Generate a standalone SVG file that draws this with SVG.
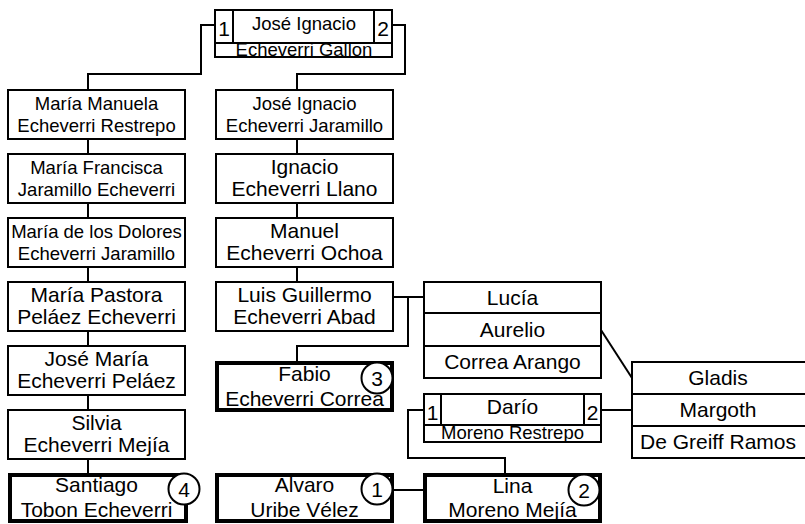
<svg xmlns="http://www.w3.org/2000/svg" width="805" height="524" viewBox="0 0 805 524">
<style>
.box{fill:#fff;stroke:#000;stroke-width:2}
.thick{fill:#fff;stroke:#000;stroke-width:4}
.circ{fill:#fff;stroke:#000;stroke-width:2}
.conn{fill:none;stroke:#000;stroke-width:2}
text{font-family:"Liberation Sans",Arial,sans-serif;text-anchor:middle;fill:#000}
.s{font-size:18.5px}
.l{font-size:21px}
</style>
<rect width="805" height="524" fill="#fff"/>
<g id="connectors">
<polyline class="conn" points="215,25 201,25 201,74 88,74 88,90"/>
<polyline class="conn" points="392,25 405,25 405,74 297,74 297,90"/>
<line class="conn" x1="88" y1="139" x2="88" y2="154"/>
<line class="conn" x1="88" y1="203" x2="88" y2="218"/>
<line class="conn" x1="88" y1="267" x2="88" y2="282"/>
<line class="conn" x1="88" y1="331" x2="88" y2="346"/>
<line class="conn" x1="88" y1="395" x2="88" y2="410"/>
<line class="conn" x1="88" y1="459" x2="88" y2="474"/>
<line class="conn" x1="297" y1="139" x2="297" y2="154"/>
<line class="conn" x1="297" y1="203" x2="297" y2="218"/>
<line class="conn" x1="297" y1="267" x2="297" y2="282"/>
<line class="conn" x1="393" y1="297" x2="424" y2="297"/>
<polyline class="conn" points="408,297 408,346 297,346 297,361"/>
<line class="conn" x1="601" y1="330" x2="632" y2="378"/>
<line class="conn" x1="601" y1="410" x2="632" y2="410"/>
<polyline class="conn" points="424,410 408,410 408,458 505,458 505,474"/>
<line class="conn" x1="392" y1="490" x2="424" y2="490"/>
</g>
<g id="jose-ignacio-gallon">
<rect class="box" x="215" y="10" width="177" height="47"/>
<line class="conn" x1="215" y1="43" x2="392" y2="43"/>
<rect class="box" x="215" y="10" width="18" height="33"/>
<rect class="box" x="374" y="10" width="18" height="33"/>
<text class="l" x="224" y="36">1</text>
<text class="l" x="383" y="36">2</text>
<text class="s" x="304" y="30">José Ignacio</text>
<text class="s" x="304" y="55.5">Echeverri Gallon</text>
</g>
<g id="maria-manuela">
<rect class="box" x="8" y="90" width="177" height="49"/>
<text class="s" x="96.5" y="110">María Manuela</text>
<text class="s" x="96.5" y="132">Echeverri Restrepo</text>
</g>
<g id="maria-francisca">
<rect class="box" x="8" y="154" width="177" height="49"/>
<text class="s" x="96.5" y="174">María Francisca</text>
<text class="s" x="96.5" y="196">Jaramillo Echeverri</text>
</g>
<g id="maria-dolores">
<rect class="box" x="8" y="218" width="177" height="49"/>
<text class="s" x="96.5" y="238">María de los Dolores</text>
<text class="s" x="96.5" y="260">Echeverri Jaramillo</text>
</g>
<g id="maria-pastora">
<rect class="box" x="8" y="282" width="177" height="49"/>
<text class="l" x="96.5" y="302">María Pastora</text>
<text class="l" x="96.5" y="324">Peláez Echeverri</text>
</g>
<g id="jose-maria">
<rect class="box" x="8" y="346" width="177" height="49"/>
<text class="l" x="96.5" y="366">José María</text>
<text class="l" x="96.5" y="388">Echeverri Peláez</text>
</g>
<g id="silvia">
<rect class="box" x="8" y="410" width="177" height="49"/>
<text class="l" x="96.5" y="430">Silvia</text>
<text class="l" x="96.5" y="452">Echeverri Mejía</text>
</g>
<g id="santiago">
<rect class="thick" x="10" y="475" width="176" height="46"/>
<text class="l" x="96.5" y="492">Santiago</text>
<text class="l" x="96.5" y="517">Tobon Echeverri</text>
<circle class="circ" cx="184" cy="489" r="15.5"/>
<text class="l" x="184" y="496.5">4</text>
</g>
<g id="jose-ignacio-jaramillo">
<rect class="box" x="216" y="90" width="177" height="49"/>
<text class="s" x="304.5" y="110">José Ignacio</text>
<text class="s" x="304.5" y="132">Echeverri Jaramillo</text>
</g>
<g id="ignacio">
<rect class="box" x="216" y="154" width="177" height="49"/>
<text class="l" x="304.5" y="174">Ignacio</text>
<text class="l" x="304.5" y="196">Echeverri Llano</text>
</g>
<g id="manuel">
<rect class="box" x="216" y="218" width="177" height="49"/>
<text class="l" x="304.5" y="238">Manuel</text>
<text class="l" x="304.5" y="260">Echeverri Ochoa</text>
</g>
<g id="luis-guillermo">
<rect class="box" x="216" y="282" width="177" height="49"/>
<text class="l" x="304.5" y="302">Luis Guillermo</text>
<text class="l" x="304.5" y="324">Echeverri Abad</text>
</g>
<g id="fabio">
<rect class="thick" x="217" y="363" width="175" height="47"/>
<text class="l" x="304.5" y="381">Fabio</text>
<text class="l" x="304.5" y="406">Echeverri Correa</text>
<circle class="circ" cx="377" cy="378" r="15.5"/>
<text class="l" x="377" y="385.5">3</text>
</g>
<g id="alvaro">
<rect class="thick" x="217" y="475" width="175" height="46"/>
<text class="l" x="304.5" y="492">Alvaro</text>
<text class="l" x="304.5" y="517">Uribe Vélez</text>
<circle class="circ" cx="377" cy="489" r="15.5"/>
<text class="l" x="377" y="496.5">1</text>
</g>
<g id="lucia">
<rect class="box" x="424" y="282" width="177" height="96"/>
<line class="conn" x1="424" y1="313" x2="601" y2="313"/>
<line class="conn" x1="424" y1="346" x2="601" y2="346"/>
<text class="l" x="512.5" y="305">Lucía</text>
<text class="l" x="512.5" y="337">Aurelio</text>
<text class="l" x="512.5" y="369">Correa Arango</text>
</g>
<g id="dario">
<rect class="box" x="424" y="394" width="177" height="48"/>
<line class="conn" x1="424" y1="425" x2="601" y2="425"/>
<rect class="box" x="424" y="394" width="17" height="31"/>
<rect class="box" x="584" y="394" width="17" height="31"/>
<text class="l" x="432.5" y="420">1</text>
<text class="l" x="592.5" y="420">2</text>
<text class="l" x="512.5" y="414">Darío</text>
<text class="s" x="512.5" y="439">Moreno Restrepo</text>
</g>
<g id="lina">
<rect class="thick" x="425" y="475" width="175" height="46"/>
<text class="l" x="512.5" y="493">Lina</text>
<text class="l" x="512.5" y="517">Moreno Mejía</text>
<circle class="circ" cx="584" cy="490" r="15.5"/>
<text class="l" x="584" y="497.5">2</text>
</g>
<g id="gladis">
<rect class="box" x="632" y="362" width="174" height="96"/>
<line class="conn" x1="632" y1="394" x2="806" y2="394"/>
<line class="conn" x1="632" y1="426" x2="806" y2="426"/>
<text class="l" x="718" y="385">Gladis</text>
<text class="l" x="718" y="417">Margoth</text>
<text class="l" x="718" y="449">De Greiff Ramos</text>
</g>
</svg>
